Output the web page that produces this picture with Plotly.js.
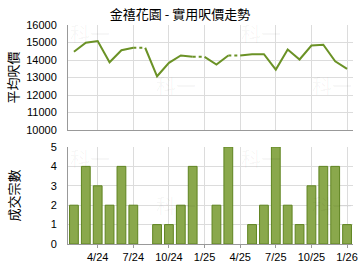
<!DOCTYPE html>
<html>
<head>
<meta charset="utf-8">
<script src="https://cdn.plot.ly/plotly-3.0.1.min.js"></script>
<style>html,body{margin:0;padding:0;background:#fff;}#chart{width:360px;height:270px;}</style>
</head>
<body>
<div id="chart"></div>
<script>
const months = ['2/24','3/24','4/24','5/24','6/24','7/24','8/24','9/24','10/24','11/24','12/24','1/25',
                '2/25','3/25','4/25','5/25','6/25','7/25','8/25','9/25','10/25','11/25','12/25','1/26'];
const avgPrice = [14470,14990,15080,13870,14560,14700,null,13070,13840,14260,14180,null,
                  13740,14260,null,14330,14330,13450,14600,14030,14830,14870,13930,13490];
const deals = [2,4,3,2,4,2,0,1,1,2,4,0,2,5,0,1,2,5,2,1,3,4,4,1];
const tickLabels = ['4/24','7/24','10/24','1/25','4/25','7/25','10/25','1/26'];
const priceTicks = [10000,11000,12000,13000,14000,15000,16000];
const dealTicks = [0,1,2,3,4,5];

// Build solid and dotted line pieces (missing months carry the previous value, joined by a dotted line)
const solidX = [], solidY = [], dotX = [], dotY = [];
let carry = null;
for (let i = 0; i < months.length; i++) {
  if (avgPrice[i] === null) {
    dotX.push(months[i-1], months[i], null);
    dotY.push(carry, carry, null);
    solidX.push(months[i]); solidY.push(null);
    solidX.push(months[i]); solidY.push(carry);
  } else {
    carry = avgPrice[i];
    solidX.push(months[i]); solidY.push(carry);
  }
}

const lineColor = '#6b9226';
const gridColor = '#dcdcdc';
const axisColor = '#999999';
const font = {family: 'Liberation Sans, Arial, sans-serif', size: 11, color: '#000'};

const traces = [
  {x: dotX, y: dotY, type: 'scatter', mode: 'lines', xaxis: 'x', yaxis: 'y',
   line: {color: lineColor, width: 2, dash: 'dot'}, hoverinfo: 'skip'},
  {x: solidX, y: solidY, type: 'scatter', mode: 'lines', xaxis: 'x', yaxis: 'y',
   line: {color: lineColor, width: 2}, connectgaps: false},
  {x: months, y: deals, type: 'bar', xaxis: 'x2', yaxis: 'y2', width: 0.74,
   marker: {color: '#8aa84c', line: {color: '#5f8420', width: deals.map(d => d > 0 ? 1 : 0)}}}
];

const wm = [];
const wmPos = [[0.0,0.92,'y'],[0.3,0.42,'y'],[0.6,0.92,'y'],[0.85,0.42,'y'],
               [0.0,0.88,'y2'],[0.3,0.4,'y2'],[0.6,0.88,'y2'],[0.85,0.4,'y2']];
wmPos.forEach(p => {
  const yd = p[2] === 'y' ? [0.5205,1] : [0,0.443];
  wm.push({text: '科一', xref: 'paper', yref: 'paper', x: p[0], y: yd[0] + p[1]*(yd[1]-yd[0]),
    xanchor: 'left', yanchor: 'middle', showarrow: false,
    font: {family: 'Noto Sans CJK TC', size: 20, color: 'rgba(0,0,0,0.04)'}});
});

const layout = {
  width: 360, height: 270,
  margin: {l: 68, r: 7, t: 25, b: 26},
  paper_bgcolor: '#fff', plot_bgcolor: '#fff',
  showlegend: false,
  font: font,
  title: {text: '金禧花園 - 實用呎價走勢', x: 0.5, xanchor: 'center', y: 0.945, yanchor: 'middle',
          font: {family: 'Noto Sans CJK TC, sans-serif', size: 13, color: '#000'}},
  xaxis: {type: 'category', categoryarray: months, categoryorder: 'array', range: [-0.5, 23.5],
          anchor: 'y', tickvals: tickLabels, showticklabels: false, ticks: '',
          showgrid: true, gridcolor: gridColor, showline: true, linecolor: axisColor, zeroline: false},
  yaxis: {domain: [0.5205, 1], range: [10000, 16000], tickvals: priceTicks,
          ticktext: priceTicks.map(String), ticks: '',
          ticklabelstandoff: 8, showgrid: true, gridcolor: gridColor, showline: true,
          linecolor: axisColor, zeroline: false, tickfont: font},
  xaxis2: {type: 'category', categoryarray: months, categoryorder: 'array', range: [-0.5, 23.5],
           anchor: 'y2', tickvals: tickLabels, ticktext: tickLabels, ticks: 'outside', ticklen: 3,
           tickcolor: axisColor, showgrid: true, gridcolor: gridColor, showline: true,
           linecolor: axisColor, zeroline: false, tickfont: font, tickangle: 0},
  yaxis2: {domain: [0, 0.443], range: [0, 5], tickvals: dealTicks, ticktext: dealTicks.map(String), ticks: '',
           ticklabelstandoff: 8, showgrid: true, gridcolor: gridColor, showline: true,
           linecolor: axisColor, zeroline: false, tickfont: font},
  bargap: 0.26,
  annotations: wm.concat([
    {text: '平均呎價', xref: 'paper', yref: 'paper', x: (13-68)/285, y: (0.5205+1)/2,
     textangle: -90, showarrow: false, xanchor: 'center', yanchor: 'middle',
     font: {family: 'Noto Sans CJK TC, sans-serif', size: 13, color: '#000'}},
    {text: '成交宗數', xref: 'paper', yref: 'paper', x: (13-68)/285, y: 0.443/2,
     textangle: -90, showarrow: false, xanchor: 'center', yanchor: 'middle',
     font: {family: 'Noto Sans CJK TC, sans-serif', size: 13, color: '#000'}}
  ])
};

Plotly.newPlot('chart', traces, layout, {displayModeBar: false, staticPlot: true});
</script>
</body>
</html>
